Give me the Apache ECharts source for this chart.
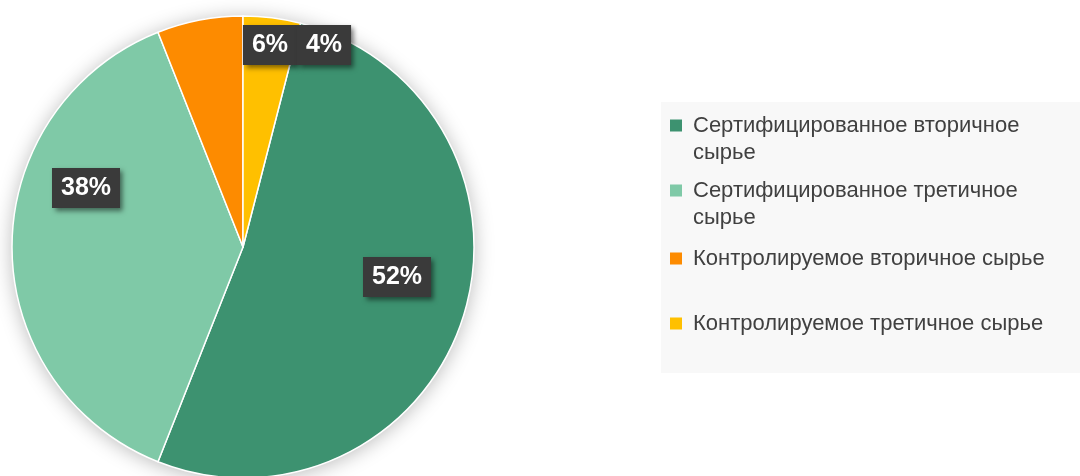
<!DOCTYPE html>
<html>
<head>
<meta charset="utf-8">
<script src="https://cdn.jsdelivr.net/npm/echarts@6/dist/echarts.min.js"></script>
<style>
  html, body { margin: 0; padding: 0; background: #fff; }
  #main { width: 1080px; height: 476px; }
</style>
</head>
<body>
<div id="main"></div>
<script>
// data
const categories = [
    'Сертифицированное вторичное сырье',
    'Сертифицированное третичное сырье',
    'Контролируемое вторичное сырье',
    'Контролируемое третичное сырье'
];
const shares = [52, 38, 6, 4];
const colors = ['#3d9270', '#7fc9a7', '#fd8b00', '#ffc000'];
// how the legend wraps each name
const legendText = [
    'Сертифицированное вторичное\nсырье',
    'Сертифицированное третичное\nсырье',
    'Контролируемое вторичное сырье',
    'Контролируемое третичное сырье'
];

document.addEventListener('DOMContentLoaded', function () {
    const myChart = echarts.init(document.getElementById('main'));

    // label boxes were placed by hand in the original
    const labelSpots = [[397, 277], [86, 188], [270, 45], [324, 45]];

    // square icon at the first line, wider box so text sits a bit further right
    const iconTwoLines = 'path://M0,0L0,0M0,7.5L12,7.5L12,19.5L0,19.5ZM18,54L18,54';
    const iconOneLine = 'path://M0,0L0,0M0,7.5L12,7.5L12,19.5L0,19.5ZM18,27L18,27';
    const legendTops = [112, 177, 245, 310];

    const legends = categories.map(function (name, i) {
        const twoLines = legendText[i].indexOf('\n') >= 0;
        return {
            orient: 'vertical',
            left: 670,
            top: legendTops[i],
            padding: 0,
            itemWidth: 18,
            itemHeight: twoLines ? 54 : 27,
            icon: twoLines ? iconTwoLines : iconOneLine,
            itemStyle: { borderWidth: 0 },
            data: [name],
            formatter: function () { return legendText[i]; },
            textStyle: {
                fontFamily: 'Liberation Sans, Arial, sans-serif',
                fontSize: 22,
                lineHeight: 27,
                color: '#404040'
            }
        };
    });

    const option = {
        animation: false,
        color: colors,
        legend: legends,
        graphic: [{
            type: 'rect',
            left: 661,
            top: 102,
            z: 0,
            shape: { width: 419, height: 271 },
            style: { fill: '#f8f8f8' }
        }],
        series: [
            {
                // soft shadow under the pie
                type: 'pie',
                silent: true,
                center: [243, 247],
                radius: 231,
                z: 1,
                label: { show: false },
                labelLine: { show: false },
                itemStyle: {
                    color: '#ffffff',
                    shadowBlur: 20,
                    shadowColor: 'rgba(0, 0, 0, 0.28)',
                    shadowOffsetY: 2
                },
                data: [{ name: '', value: 1 }]
            },
            {
                type: 'pie',
                center: [243, 247],
                radius: 231,
                startAngle: 75.6,
                clockwise: true,
                z: 2,
                percentPrecision: 0,
                itemStyle: {
                    borderColor: '#ffffff',
                    borderWidth: 1.5
                },
                label: {
                    show: true,
                    position: 'inside',
                    formatter: '{d}%',
                    color: '#ffffff',
                    fontFamily: 'Liberation Sans, Arial, sans-serif',
                    fontWeight: 'bold',
                    fontSize: 25,
                    lineHeight: 24,
                    backgroundColor: '#3a3a3a',
                    padding: [8, 9],
                    shadowColor: 'rgba(0, 0, 0, 0.5)',
                    shadowBlur: 5,
                    shadowOffsetX: 3,
                    shadowOffsetY: 3
                },
                labelLayout: function (params) {
                    const p = labelSpots[params.dataIndex];
                    return { x: p[0], y: p[1], align: 'center', verticalAlign: 'middle' };
                },
                emphasis: { disabled: true },
                data: categories.map(function (name, i) {
                    return { name: name, value: shares[i] };
                })
            }
        ]
    };

    myChart.setOption(option);
});
</script>
</body>
</html>
